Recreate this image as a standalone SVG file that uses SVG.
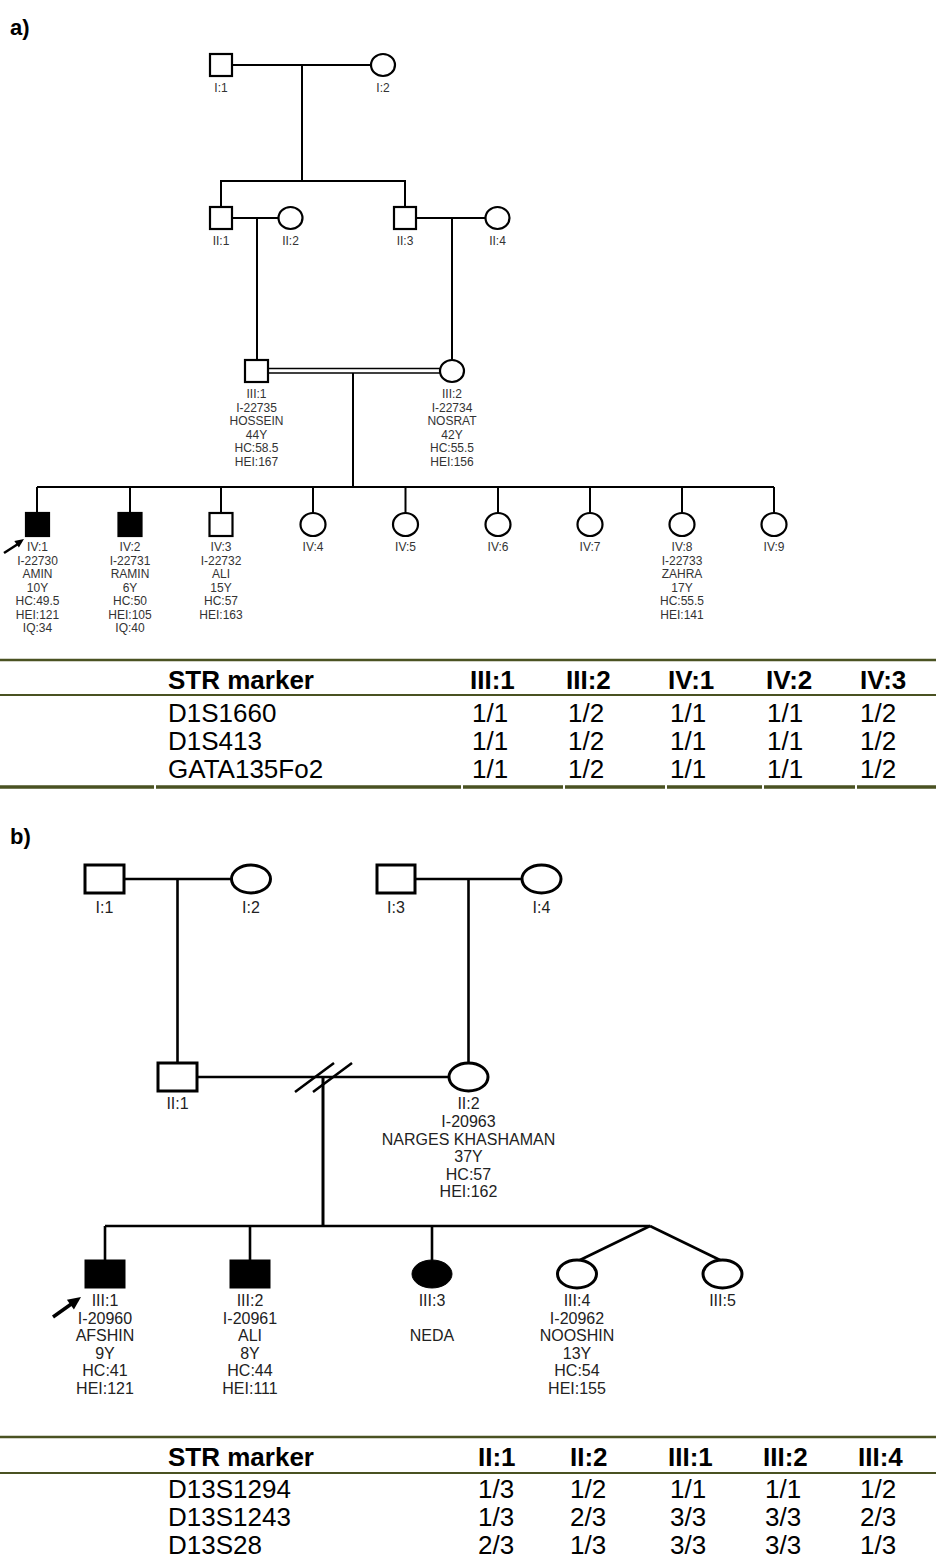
<svg xmlns="http://www.w3.org/2000/svg" width="936" height="1560" viewBox="0 0 936 1560">
<style>
text{font-family:"Liberation Sans",Arial,sans-serif}
.pl{font-size:22px;font-weight:bold;fill:#000}
.la{font-size:12px;fill:#333;text-anchor:middle}
.lb{font-size:16px;fill:#222;text-anchor:middle}
.sa{fill:#fff;stroke:#000;stroke-width:2.2}
.sb{fill:#fff;stroke:#000;stroke-width:3}
.fa{fill:#000;stroke:#000;stroke-width:2.2}
.fb{fill:#000;stroke:#000;stroke-width:1}
.ca{stroke:#000;stroke-width:2;fill:none}
.cb{stroke:#000;stroke-width:2.6;fill:none}
.th{font-size:26px;font-weight:bold;fill:#000}
.td{font-size:26px;fill:#000}
.tl{stroke:#4a5222;fill:none}
</style>

<text class="pl" x="10" y="35">a)</text>
<text class="pl" x="10" y="844">b)</text>

<!-- Connectors panel a -->
<g id="connectors-a">
<line class="ca" x1="232" y1="65" x2="372" y2="65"/>
<line class="ca" x1="302" y1="65" x2="302" y2="181"/>
<polyline class="ca" points="221,207 221,181 405,181 405,207"/>
<line class="ca" x1="232" y1="218" x2="279" y2="218"/>
<line class="ca" x1="257" y1="218" x2="257" y2="360"/>
<line class="ca" x1="416" y1="218" x2="486" y2="218"/>
<line class="ca" x1="452" y1="218" x2="452" y2="360"/>
<line stroke="#000" stroke-width="1.6" x1="268" y1="368.5" x2="441" y2="368.5"/>
<line stroke="#000" stroke-width="1.6" x1="268" y1="373" x2="441" y2="373"/>
<line class="ca" x1="353" y1="373" x2="353" y2="487"/>
<line class="ca" x1="37" y1="487" x2="774" y2="487"/>
<line class="ca" x1="37" y1="487" x2="37" y2="513"/>
<line class="ca" x1="130" y1="487" x2="130" y2="513"/>
<line class="ca" x1="221" y1="487" x2="221" y2="513"/>
<line class="ca" x1="313" y1="487" x2="313" y2="513"/>
<line class="ca" x1="405.5" y1="487" x2="405.5" y2="513"/>
<line class="ca" x1="498" y1="487" x2="498" y2="513"/>
<line class="ca" x1="590" y1="487" x2="590" y2="513"/>
<line class="ca" x1="682" y1="487" x2="682" y2="513"/>
<line class="ca" x1="774" y1="487" x2="774" y2="513"/>
<line stroke="#000" stroke-width="2.5" x1="4" y1="553" x2="18" y2="544"/>
<polygon fill="#000" points="24,539 18.9,547.5 14.3,540.9"/>
</g>

<!-- Nodes panel a -->
<g id="a-I1"><rect class="sa" x="210" y="54" width="22" height="22"/><text class="la" x="221" y="92">I:1</text></g>
<g id="a-I2"><ellipse class="sa" cx="383" cy="65" rx="12" ry="11"/><text class="la" x="383" y="92">I:2</text></g>
<g id="a-II1"><rect class="sa" x="210" y="207" width="22" height="22"/><text class="la" x="221" y="245">II:1</text></g>
<g id="a-II2"><ellipse class="sa" cx="290.5" cy="218" rx="12" ry="11"/><text class="la" x="290.5" y="245">II:2</text></g>
<g id="a-II3"><rect class="sa" x="394" y="207" width="22" height="22"/><text class="la" x="405" y="245">II:3</text></g>
<g id="a-II4"><ellipse class="sa" cx="497.5" cy="218" rx="12" ry="11"/><text class="la" x="497.5" y="245">II:4</text></g>
<g id="a-III1"><rect class="sa" x="245" y="360" width="23" height="22"/>
<text class="la" x="256.5" y="398">III:1</text><text class="la" x="256.5" y="411.5">I-22735</text><text class="la" x="256.5" y="425">HOSSEIN</text><text class="la" x="256.5" y="438.5">44Y</text><text class="la" x="256.5" y="452">HC:58.5</text><text class="la" x="256.5" y="465.5">HEI:167</text></g>
<g id="a-III2"><ellipse class="sa" cx="452" cy="371" rx="12" ry="11"/>
<text class="la" x="452" y="398">III:2</text><text class="la" x="452" y="411.5">I-22734</text><text class="la" x="452" y="425">NOSRAT</text><text class="la" x="452" y="438.5">42Y</text><text class="la" x="452" y="452">HC:55.5</text><text class="la" x="452" y="465.5">HEI:156</text></g>
<g id="a-IV1"><rect class="fa" x="26" y="513" width="23" height="23"/>
<text class="la" x="37.5" y="551">IV:1</text><text class="la" x="37.5" y="564.5">I-22730</text><text class="la" x="37.5" y="578">AMIN</text><text class="la" x="37.5" y="591.5">10Y</text><text class="la" x="37.5" y="605">HC:49.5</text><text class="la" x="37.5" y="618.5">HEI:121</text><text class="la" x="37.5" y="632">IQ:34</text></g>
<g id="a-IV2"><rect class="fa" x="118.5" y="513" width="23" height="23"/>
<text class="la" x="130" y="551">IV:2</text><text class="la" x="130" y="564.5">I-22731</text><text class="la" x="130" y="578">RAMIN</text><text class="la" x="130" y="591.5">6Y</text><text class="la" x="130" y="605">HC:50</text><text class="la" x="130" y="618.5">HEI:105</text><text class="la" x="130" y="632">IQ:40</text></g>
<g id="a-IV3"><rect class="sa" x="209.5" y="513" width="23" height="23"/>
<text class="la" x="221" y="551">IV:3</text><text class="la" x="221" y="564.5">I-22732</text><text class="la" x="221" y="578">ALI</text><text class="la" x="221" y="591.5">15Y</text><text class="la" x="221" y="605">HC:57</text><text class="la" x="221" y="618.5">HEI:163</text></g>
<g id="a-IV4"><ellipse class="sa" cx="313" cy="524.5" rx="12.5" ry="11.5"/><text class="la" x="313" y="551">IV:4</text></g>
<g id="a-IV5"><ellipse class="sa" cx="405.5" cy="524.5" rx="12.5" ry="11.5"/><text class="la" x="405.5" y="551">IV:5</text></g>
<g id="a-IV6"><ellipse class="sa" cx="498" cy="524.5" rx="12.5" ry="11.5"/><text class="la" x="498" y="551">IV:6</text></g>
<g id="a-IV7"><ellipse class="sa" cx="590" cy="524.5" rx="12.5" ry="11.5"/><text class="la" x="590" y="551">IV:7</text></g>
<g id="a-IV8"><ellipse class="sa" cx="682" cy="524.5" rx="12.5" ry="11.5"/>
<text class="la" x="682" y="551">IV:8</text><text class="la" x="682" y="564.5">I-22733</text><text class="la" x="682" y="578">ZAHRA</text><text class="la" x="682" y="591.5">17Y</text><text class="la" x="682" y="605">HC:55.5</text><text class="la" x="682" y="618.5">HEI:141</text></g>
<g id="a-IV9"><ellipse class="sa" cx="774" cy="524.5" rx="12.5" ry="11.5"/><text class="la" x="774" y="551">IV:9</text></g>

<!-- Table a -->
<g id="table-a">
<line class="tl" stroke-width="2.6" x1="0" y1="660" x2="936" y2="660"/>
<line class="tl" stroke-width="2" x1="0" y1="695" x2="936" y2="695"/>
<path class="tl" stroke-width="3.5" d="M0 787H154M156 787H461M463 787H563M565 787H665M667 787H762M764 787H855M857 787H936"/>
<text class="th" x="168" y="689">STR marker</text>
<text class="th" x="470" y="689">III:1</text><text class="th" x="566" y="689">III:2</text><text class="th" x="668" y="689">IV:1</text><text class="th" x="766" y="689">IV:2</text><text class="th" x="860" y="689">IV:3</text>
<text class="td" x="168" y="722">D1S1660</text><text class="td" x="472" y="722">1/1</text><text class="td" x="568" y="722">1/2</text><text class="td" x="670" y="722">1/1</text><text class="td" x="767" y="722">1/1</text><text class="td" x="860" y="722">1/2</text>
<text class="td" x="168" y="750">D1S413</text><text class="td" x="472" y="750">1/1</text><text class="td" x="568" y="750">1/2</text><text class="td" x="670" y="750">1/1</text><text class="td" x="767" y="750">1/1</text><text class="td" x="860" y="750">1/2</text>
<text class="td" x="168" y="778">GATA135Fo2</text><text class="td" x="472" y="778">1/1</text><text class="td" x="568" y="778">1/2</text><text class="td" x="670" y="778">1/1</text><text class="td" x="767" y="778">1/1</text><text class="td" x="860" y="778">1/2</text>
</g>

<!-- Connectors panel b -->
<g id="connectors-b">
<line class="cb" x1="124" y1="879" x2="232" y2="879"/>
<line class="cb" x1="177.5" y1="879" x2="177.5" y2="1063"/>
<line class="cb" x1="415" y1="879" x2="522" y2="879"/>
<line class="cb" x1="468.5" y1="879" x2="468.5" y2="1063"/>
<line class="cb" x1="197" y1="1077" x2="449" y2="1077"/>
<line class="cb" x1="295" y1="1092" x2="334" y2="1063"/>
<line class="cb" x1="313" y1="1092" x2="352" y2="1063"/>
<line stroke="#000" stroke-width="3" x1="323" y1="1077" x2="323" y2="1226"/>
<line class="cb" x1="105" y1="1226" x2="650" y2="1226"/>
<line class="cb" x1="105" y1="1226" x2="105" y2="1260"/>
<line class="cb" x1="250" y1="1226" x2="250" y2="1260"/>
<line class="cb" x1="432" y1="1226" x2="432" y2="1260"/>
<line class="cb" x1="650" y1="1226" x2="578" y2="1261"/>
<line class="cb" x1="650" y1="1226" x2="722" y2="1261"/>
<line stroke="#000" stroke-width="3.5" x1="53" y1="1317" x2="72" y2="1303.5"/>
<polygon fill="#000" points="81,1297 73.9,1309.5 66.9,1299.7"/>
</g>

<!-- Nodes panel b -->
<g id="b-I1"><rect class="sb" x="85" y="865" width="39" height="28"/><text class="lb" x="104.5" y="913">I:1</text></g>
<g id="b-I2"><ellipse class="sb" cx="251" cy="879" rx="19.5" ry="14"/><text class="lb" x="251" y="913">I:2</text></g>
<g id="b-I3"><rect class="sb" x="377" y="865" width="38" height="28"/><text class="lb" x="396" y="913">I:3</text></g>
<g id="b-I4"><ellipse class="sb" cx="541.5" cy="879" rx="19.5" ry="14"/><text class="lb" x="541.5" y="913">I:4</text></g>
<g id="b-II1"><rect class="sb" x="158" y="1063" width="39" height="28"/><text class="lb" x="177.5" y="1109">II:1</text></g>
<g id="b-II2"><ellipse class="sb" cx="468.5" cy="1077" rx="19.5" ry="14"/>
<text class="lb" x="468.5" y="1109">II:2</text><text class="lb" x="468.5" y="1127">I-20963</text><text class="lb" x="468.5" y="1145">NARGES KHASHAMAN</text><text class="lb" x="468.5" y="1162">37Y</text><text class="lb" x="468.5" y="1180">HC:57</text><text class="lb" x="468.5" y="1197">HEI:162</text></g>
<g id="b-III1"><rect class="fb" x="85" y="1260" width="40" height="28"/>
<text class="lb" x="105" y="1306">III:1</text><text class="lb" x="105" y="1323.5">I-20960</text><text class="lb" x="105" y="1341">AFSHIN</text><text class="lb" x="105" y="1358.5">9Y</text><text class="lb" x="105" y="1376">HC:41</text><text class="lb" x="105" y="1394">HEI:121</text></g>
<g id="b-III2"><rect class="fb" x="230" y="1260" width="40" height="28"/>
<text class="lb" x="250" y="1306">III:2</text><text class="lb" x="250" y="1323.5">I-20961</text><text class="lb" x="250" y="1341">ALI</text><text class="lb" x="250" y="1358.5">8Y</text><text class="lb" x="250" y="1376">HC:44</text><text class="lb" x="250" y="1394">HEI:111</text></g>
<g id="b-III3"><ellipse class="fb" cx="432" cy="1274" rx="20" ry="14"/>
<text class="lb" x="432" y="1306">III:3</text><text class="lb" x="432" y="1341">NEDA</text></g>
<g id="b-III4"><ellipse class="sb" cx="577" cy="1274" rx="19.5" ry="14"/>
<text class="lb" x="577" y="1306">III:4</text><text class="lb" x="577" y="1323.5">I-20962</text><text class="lb" x="577" y="1341">NOOSHIN</text><text class="lb" x="577" y="1358.5">13Y</text><text class="lb" x="577" y="1376">HC:54</text><text class="lb" x="577" y="1394">HEI:155</text></g>
<g id="b-III5"><ellipse class="sb" cx="722.5" cy="1274" rx="19.5" ry="14"/><text class="lb" x="722.5" y="1306">III:5</text></g>

<!-- Table b -->
<g id="table-b">
<line class="tl" stroke-width="2.6" x1="0" y1="1437" x2="936" y2="1437"/>
<line class="tl" stroke-width="2" x1="0" y1="1473" x2="936" y2="1473"/>
<text class="th" x="168" y="1466">STR marker</text>
<text class="th" x="478" y="1466">II:1</text><text class="th" x="570" y="1466">II:2</text><text class="th" x="668" y="1466">III:1</text><text class="th" x="763" y="1466">III:2</text><text class="th" x="858" y="1466">III:4</text>
<text class="td" x="168" y="1498">D13S1294</text><text class="td" x="478" y="1498">1/3</text><text class="td" x="570" y="1498">1/2</text><text class="td" x="670" y="1498">1/1</text><text class="td" x="765" y="1498">1/1</text><text class="td" x="860" y="1498">1/2</text>
<text class="td" x="168" y="1526">D13S1243</text><text class="td" x="478" y="1526">1/3</text><text class="td" x="570" y="1526">2/3</text><text class="td" x="670" y="1526">3/3</text><text class="td" x="765" y="1526">3/3</text><text class="td" x="860" y="1526">2/3</text>
<text class="td" x="168" y="1554">D13S28</text><text class="td" x="478" y="1554">2/3</text><text class="td" x="570" y="1554">1/3</text><text class="td" x="670" y="1554">3/3</text><text class="td" x="765" y="1554">3/3</text><text class="td" x="860" y="1554">1/3</text>
</g>
</svg>
